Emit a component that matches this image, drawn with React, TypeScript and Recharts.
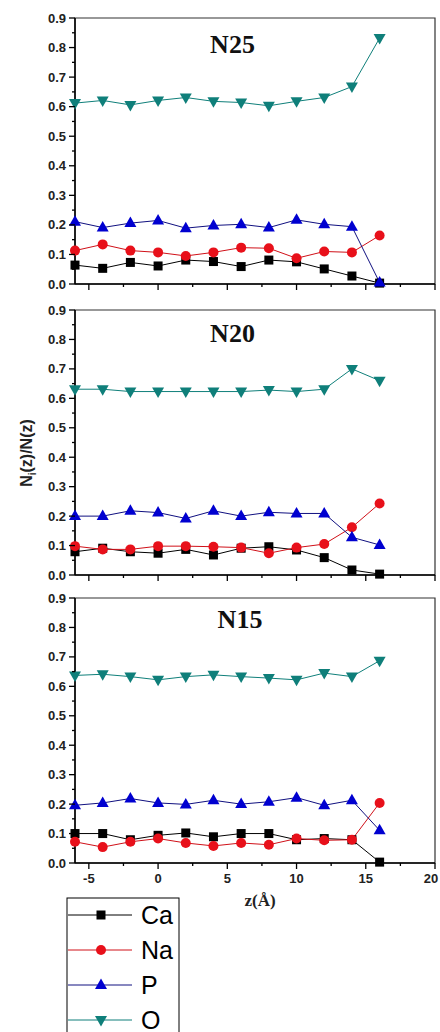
import { LineChart, Line, XAxis, YAxis, ReferenceArea, Label } from 'recharts';

const Z = [-6, -4, -2, 0, 2, 4, 6, 8, 10, 12, 14, 16];

const N25_CA = [0.064, 0.053, 0.073, 0.061, 0.081, 0.076, 0.059, 0.081, 0.075, 0.051, 0.027, 0.003];
const N25_NA = [0.113, 0.134, 0.113, 0.107, 0.095, 0.107, 0.123, 0.121, 0.087, 0.110, 0.107, 0.164];
const N25_P = [0.211, 0.191, 0.206, 0.215, 0.189, 0.198, 0.202, 0.191, 0.217, 0.202, 0.194, 0.005];
const N25_O = [0.612, 0.621, 0.606, 0.621, 0.631, 0.618, 0.614, 0.603, 0.618, 0.631, 0.668, 0.832];

const N20_CA = [0.079, 0.091, 0.079, 0.074, 0.087, 0.068, 0.091, 0.096, 0.085, 0.059, 0.017, 0.003];
const N20_NA = [0.098, 0.087, 0.087, 0.098, 0.098, 0.096, 0.093, 0.074, 0.093, 0.105, 0.162, 0.243];
const N20_P = [0.200, 0.200, 0.218, 0.212, 0.192, 0.218, 0.200, 0.213, 0.209, 0.209, 0.128, 0.102];
const N20_O = [0.631, 0.631, 0.623, 0.623, 0.623, 0.623, 0.623, 0.628, 0.623, 0.631, 0.700, 0.660];

const N15_CA = [0.100, 0.100, 0.079, 0.094, 0.102, 0.089, 0.100, 0.100, 0.079, 0.083, 0.079, 0.003];
const N15_NA = [0.072, 0.054, 0.072, 0.083, 0.068, 0.058, 0.068, 0.062, 0.083, 0.077, 0.079, 0.204];
const N15_P = [0.196, 0.204, 0.219, 0.204, 0.199, 0.213, 0.200, 0.208, 0.222, 0.196, 0.213, 0.111];
const N15_O = [0.637, 0.641, 0.633, 0.622, 0.633, 0.639, 0.633, 0.628, 0.622, 0.645, 0.633, 0.687];

const X_TICKS = [-5, -2.5, 0, 2.5, 5, 7.5, 10, 12.5, 15, 17.5, 20];
const Y_TICKS = [0, 0.05, 0.1, 0.15, 0.2, 0.25, 0.3, 0.35, 0.4, 0.45, 0.5, 0.55, 0.6, 0.65, 0.7, 0.75, 0.8, 0.85, 0.9];

const SERIES = [
  { key: 'Ca', color: '#000000', line: '#000000', shape: 'square' },
  { key: 'Na', color: '#e8101a', line: '#d01018', shape: 'circle' },
  { key: 'P', color: '#0000d0', line: '#101080', shape: 'up' },
  { key: 'O', color: '#0f7f7a', line: '#0f7f7a', shape: 'down' },
];

const makeRows = (ca: number[], na: number[], p: number[], o: number[]) =>
  Z.map((z, i) => ({ z, Ca: ca[i], Na: na[i], P: p[i], O: o[i] }));

const PANELS = [
  { name: 'N25', rows: makeRows(N25_CA, N25_NA, N25_P, N25_O), top: 0, height: 300, mTop: 18, mBottom: 0, xh: 16, labels: false },
  { name: 'N20', rows: makeRows(N20_CA, N20_NA, N20_P, N20_O), top: 290, height: 300, mTop: 20, mBottom: 0, xh: 15, labels: false },
  { name: 'N15', rows: makeRows(N15_CA, N15_NA, N15_P, N15_O), top: 580, height: 452, mTop: 18, mBottom: 123, xh: 46, labels: true },
];

const TICK_FONT = { fontFamily: '"Liberation Sans", Arial, sans-serif', fontWeight: 700, fontSize: 13, fill: '#222' };

function Marker({ cx, cy, shape, color }: { cx: number; cy: number; shape: string; color: string }) {
  if (shape === 'square') return <rect x={cx - 4.5} y={cy - 4.5} width={9} height={9} fill={color} />;
  if (shape === 'circle') return <circle cx={cx} cy={cy} r={5} fill={color} />;
  if (shape === 'up')
    return <polygon points={`${cx},${cy - 6.5} ${cx - 6},${cy + 4} ${cx + 6},${cy + 4}`} fill={color} />;
  return <polygon points={`${cx - 6},${cy - 4} ${cx + 6},${cy - 4} ${cx},${cy + 6.5}`} fill={color} />;
}

function YTick({ x, y, payload }: any) {
  const v = payload.value;
  const major = Math.round(v * 100) % 10 === 0;
  return (
    <g>
      <line x1={x} x2={x - (major ? 6 : 3)} y1={y} y2={y} stroke="#000" strokeWidth={1.3} />
      {major && (
        <text x={x - 9} y={y} dy={4.5} textAnchor="end" {...TICK_FONT}>
          {v.toFixed(1)}
        </text>
      )}
    </g>
  );
}

function makeXTick(showLabels: boolean) {
  return ({ x, y, payload }: any) => {
    const v = payload.value;
    const major = v % 5 === 0;
    return (
      <g>
        <line x1={x} x2={x} y1={y} y2={y + (major ? 6 : 3)} stroke="#000" strokeWidth={1.3} />
        {showLabels && major && (
          <text x={v === 20 ? x - 4 : x} y={y + 20} textAnchor="middle" {...TICK_FONT}>
            {v}
          </text>
        )}
      </g>
    );
  };
}

export default function App() {
  return (
    <div style={{ position: 'fixed', left: 0, top: 0, width: 440, height: 1032, background: '#fff', overflow: 'hidden' }}>
      {PANELS.map((panel) => (
        <div key={panel.name} style={{ position: 'absolute', left: 0, top: panel.top }}>
          <LineChart
            width={440}
            height={panel.height}
            data={panel.rows}
            margin={{ top: panel.mTop, right: 5, bottom: panel.mBottom, left: 0 }}
          >
            <XAxis
              dataKey="z"
              type="number"
              domain={[-6, 20]}
              ticks={X_TICKS}
              interval={0}
              height={panel.xh}
              tickSize={0}
              tickMargin={0}
              tickLine={false}
              tick={makeXTick(panel.labels)}
              axisLine={{ stroke: '#000', strokeWidth: 1.5 }}
            >
              {panel.labels && (
                <Label
                  content={({ viewBox }: any) => (
                    <text
                      x={viewBox.x + viewBox.width / 2 + 5}
                      y={viewBox.y + viewBox.height - 3}
                      textAnchor="middle"
                      fontFamily='"Liberation Serif", "Times New Roman", serif'
                      fontWeight={700}
                      fontSize={17}
                      fill="#222"
                    >
                      z(Å)
                    </text>
                  )}
                />
              )}
            </XAxis>
            <YAxis
              type="number"
              domain={[0, 0.9]}
              ticks={Y_TICKS}
              interval={0}
              width={75}
              tickSize={0}
              tickMargin={0}
              tickLine={false}
              tick={<YTick />}
              axisLine={{ stroke: '#000', strokeWidth: 1.5 }}
            />
            <ReferenceArea x1={-6} x2={20} y1={0} y2={0.9} fill="none" stroke="#333" strokeWidth={1.2} />
            {SERIES.map((s) => (
              <Line
                key={s.key}
                dataKey={s.key}
                type="linear"
                stroke={s.line}
                strokeWidth={1}
                isAnimationActive={false}
                dot={(p: any) => <Marker key={`${s.key}-${p.index}`} cx={p.cx} cy={p.cy} shape={s.shape} color={s.color} />}
                activeDot={false}
              />
            ))}
          </LineChart>
        </div>
      ))}
      <svg width={440} height={1032} style={{ position: 'absolute', left: 0, top: 0, pointerEvents: 'none' }}>
        <g fontFamily='"Liberation Serif", "Times New Roman", serif' fontWeight={700} fontSize={26} fill="#111" textAnchor="middle">
          <text x={232.5} y={53}>N25</text>
          <text x={232.5} y={342}>N20</text>
          <text x={240} y={628}>N15</text>
        </g>
        <text
          transform="translate(32,453) rotate(-90)"
          textAnchor="middle"
          fontFamily='"Liberation Sans", Arial, sans-serif'
          fontWeight={700}
          fontSize={16}
          fill="#222"
        >
          N<tspan fontSize={10} dy={4}>i</tspan>
          <tspan dy={-4}>(z)/N(z)</tspan>
        </text>
        <rect x={67} y={898} width={112} height={150} fill="none" stroke="#000" strokeWidth={1} />
        {SERIES.map((s, i) => {
          const cy = 915 + i * 35;
          return (
            <g key={s.key}>
              <line x1={68} x2={132} y1={cy} y2={cy} stroke={s.line} strokeWidth={1} />
              <Marker cx={101} cy={cy} shape={s.shape} color={s.color} />
              <text x={141} y={cy + 9} fontFamily='"Liberation Sans", Arial, sans-serif' fontSize={25} fill="#000">
                {s.key}
              </text>
            </g>
          );
        })}
      </svg>
    </div>
  );
}
